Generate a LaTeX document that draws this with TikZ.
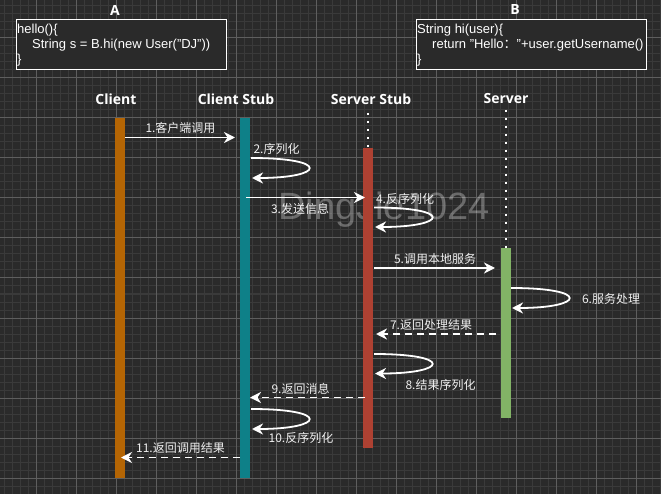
\documentclass[tikz,border=0pt]{standalone}
\usepackage{fontspec}
\setmainfont{Liberation Sans}
\newfontfamily\cjk{Noto Sans CJK SC}
\newfontfamily\hdr{Open Sans}
\usetikzlibrary{arrows.meta}
\definecolor{bg}{HTML}{2A2A2A}
\definecolor{gminor}{HTML}{3A3A3A}
\definecolor{gmajor}{HTML}{5E5E5E}
\definecolor{cclient}{HTML}{B46504}
\definecolor{cstub}{HTML}{0E8088}
\definecolor{sstub}{HTML}{AE4132}
\definecolor{cserver}{HTML}{82B366}
\definecolor{txt}{HTML}{F0F0F0}
\tikzset{
  minorline/.style={gminor, line width=1pt},
  majorline/.style={gmajor, line width=1pt},
  bar/.style={draw=none, inner sep=0pt, minimum width=10pt},
  codebox/.style={draw=white, line width=1pt, fill=bg},
  codetext/.style={text=white, align=left, inner sep=0pt, font=\fontsize{13}{15}\selectfont},
  header/.style={text=white, font=\hdr\bfseries\fontsize{14}{16}\selectfont, inner sep=0pt},
  msglabel/.style={text=txt, font=\cjk\fontsize{12}{14}\selectfont, inner sep=0pt},
  msg/.style={draw=white, line width=1.8pt, -{Stealth[length=11pt,width=11pt,inset=3.5pt]}},
  ret/.style={msg, dash pattern=on 7pt off 5pt},
  lifedots/.style={draw=white, line width=2pt, dash pattern=on 2pt off 6pt}
}
\begin{document}
\begin{tikzpicture}[x=1pt,y=-1pt]
\useasboundingbox (0,0) rectangle (661,494);
\fill[bg] (0,0) rectangle (661,494);
% grid
\foreach \x in {4,12,...,660} \draw[minorline] (\x,0) -- (\x,494);
\foreach \y in {6,14,...,494} \draw[minorline] (0,\y) -- (661,\y);
\foreach \x in {36,76,...,660} \draw[majorline] (\x,0) -- (\x,494);
\foreach \y in {38,78,...,494} \draw[majorline] (0,\y) -- (661,\y);
% watermark
\node[anchor=base, text=white, opacity=0.3, inner sep=0pt, font=\fontsize{38}{40}\selectfont] (wm) at (384,220) {DingJie1024};
% titles
\node[header] (tA) at (115,10) {A};
\node[header] (tB) at (515,10) {B};
% code boxes
\node[codebox, minimum width=210pt, minimum height=50pt, anchor=north west] (boxA) at (16,19) {};
\node[codetext, anchor=north west] (codeA) at (17,23.5) {hello()\{\\\hspace*{15pt}String s = B.hi(new User("DJ"))\\\}};
\node[codebox, minimum width=230pt, minimum height=50pt, anchor=north west] (boxB) at (415.5,19) {};
\node[codetext, anchor=north west] (codeB) at (417,23.5) {String hi(user)\{\\\hspace*{15pt}return "Hello{\cjk ：}"+user.getUsername()\\\}};
% headers
\node[header] (hC) at (116,99) {Client};
\node[header] (hCS) at (236,99) {Client Stub};
\node[header] (hSS) at (371,99) {Server Stub};
\node[header] (hS) at (506,99) {Server};
% lifelines
\coordinate (ssTop) at (368,113);
\coordinate (sTop) at (505.5,110);
\node[bar, fill=cclient, anchor=north, minimum height=360pt] (bC) at (119.5,118) {};
\node[bar, fill=cstub, anchor=north, minimum height=360pt] (bCS) at (245,118) {};
\node[bar, fill=sstub, anchor=north, minimum height=300pt] (bSS) at (368,147.5) {};
\node[bar, fill=cserver, anchor=north, minimum height=170pt] (bS) at (505.5,248) {};
\draw[lifedots] (ssTop) -- (bSS.north);
\draw[lifedots] (sTop) -- (bS.north);
% message end points
\coordinate (m1a) at (125,137.5); \coordinate (m1b) at (235,137.5);
\coordinate (m2a) at (251,158); \coordinate (m2b) at (252,178);
\coordinate (m3a) at (246,197.5); \coordinate (m3b) at (365,197.5);
\coordinate (m4a) at (374,207.5); \coordinate (m4b) at (375,227);
\coordinate (m5a) at (374,268); \coordinate (m5b) at (495,268);
\coordinate (m6a) at (511,288); \coordinate (m6b) at (512,308);
\coordinate (m7a) at (496,334); \coordinate (m7b) at (376,334);
\coordinate (m8a) at (374,354); \coordinate (m8b) at (375,373.5);
\coordinate (m9a) at (365,397.5); \coordinate (m9b) at (250,397.5);
\coordinate (m10a) at (251,409); \coordinate (m10b) at (252,429);
\coordinate (m11a) at (240,457.5); \coordinate (m11b) at (121,457.5);
% messages
\draw[msg] (m1a) -- (m1b);
\draw[msg] (m2a) .. controls +(80,0) and +(73,0) .. (m2b);
\draw[msg] (m3a) -- (m3b);
\draw[msg] (m4a) .. controls +(80,0) and +(73,0) .. (m4b);
\draw[msg] (m5a) -- (m5b);
\draw[msg] (m6a) .. controls +(80,0) and +(73,0) .. (m6b);
\draw[ret] (m7a) -- (m7b);
\draw[msg] (m8a) .. controls +(80,0) and +(73,0) .. (m8b);
\draw[ret] (m9a) -- (m9b);
\draw[msg] (m10a) .. controls +(80,0) and +(73,0) .. (m10b);
\draw[ret] (m11a) -- (m11b);
% labels
\node[msglabel] (l1) at (180.5,128) {1.客户端调用};
\node[msglabel] (l2) at (276.5,149) {2.序列化};
\node[msglabel] (l3) at (300,209) {3.发送信息};
\node[msglabel] (l4) at (405,199) {4.反序列化};
\node[msglabel] (l5) at (435,259) {5.调用本地服务};
\node[msglabel] (l6) at (611,299) {6.服务处理};
\node[msglabel] (l7) at (431,325) {7.返回处理结果};
\node[msglabel] (l8) at (440.5,385) {8.结果序列化};
\node[msglabel] (l9) at (300.5,389) {9.返回消息};
\node[msglabel] (l10) at (301,438) {10.反序列化};
\node[msglabel] (l11) at (180.5,448) {11.返回调用结果};
\end{tikzpicture}
\end{document}
